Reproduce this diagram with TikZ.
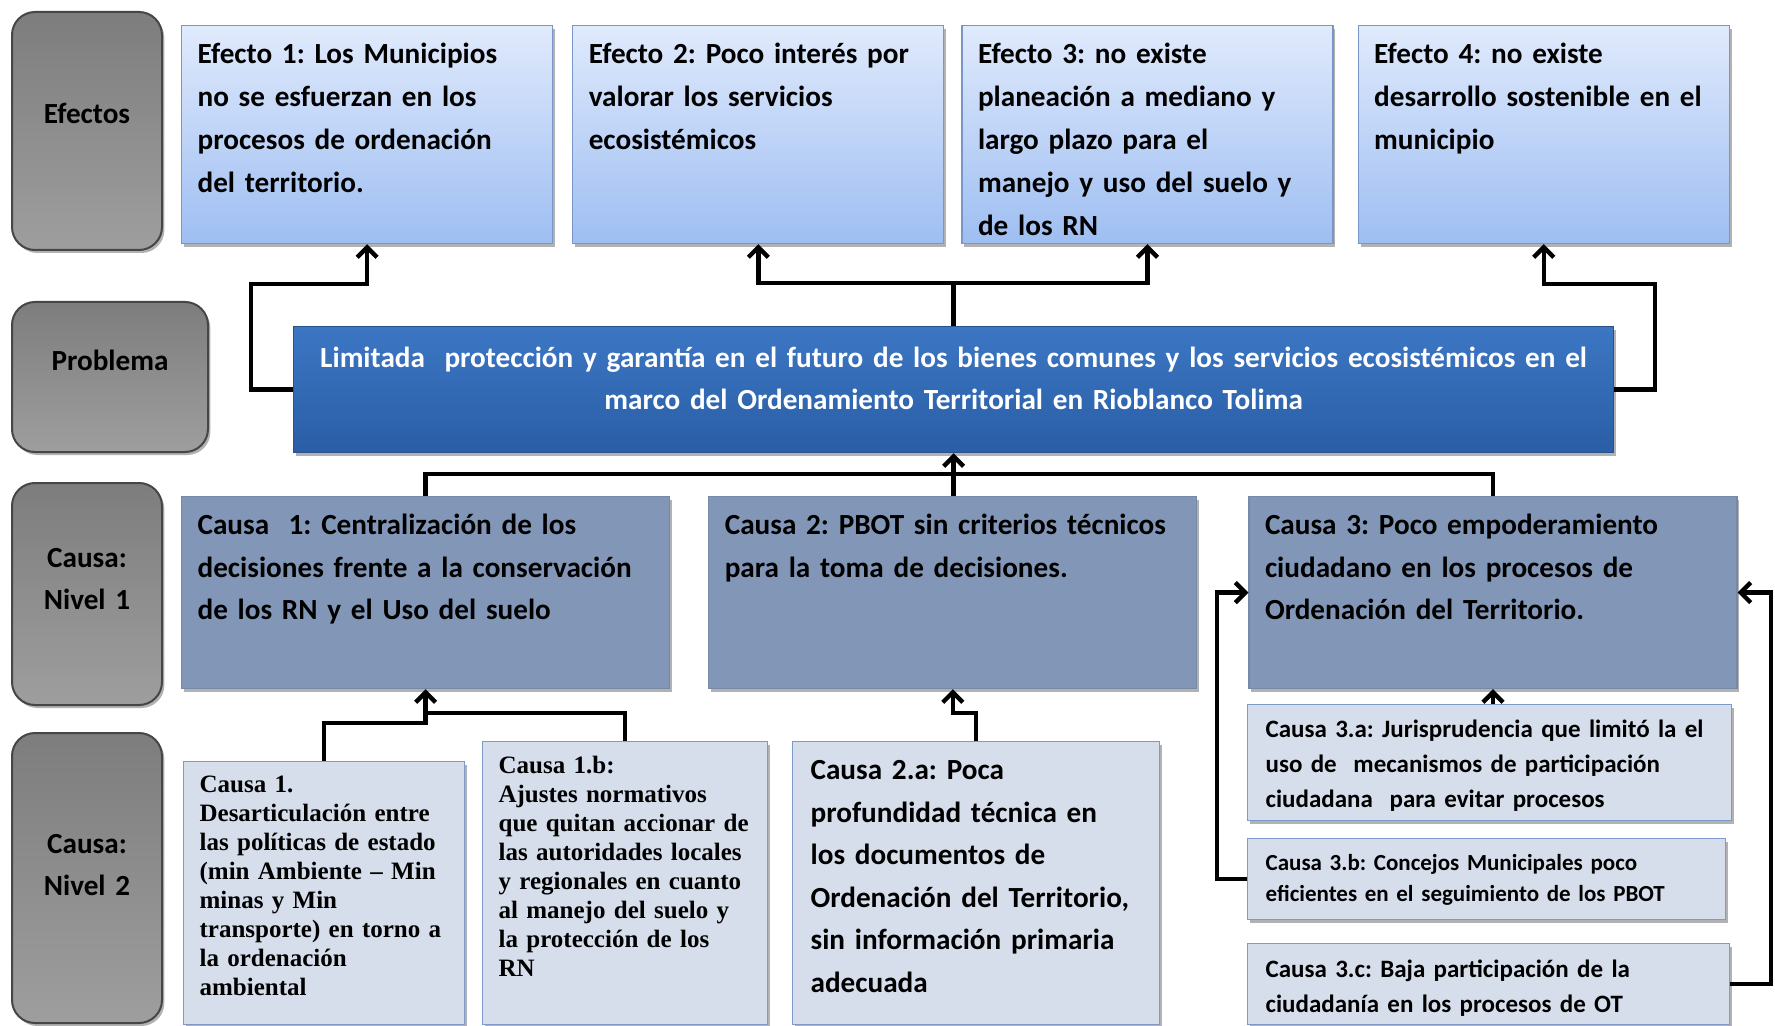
\documentclass[tikz,border=0pt]{standalone}
\usepackage{fontspec}
\setmainfont{Carlito}
\newfontfamily\timesfont{Liberation Serif}
\usepackage{tikz}
\usetikzlibrary{positioning,arrows.meta,calc,shadows}
\frenchspacing

\definecolor{filaborde}{RGB}{70,70,70}
\definecolor{filaarriba}{RGB}{125,125,125}
\definecolor{filaabajo}{RGB}{158,158,158}
\definecolor{efborde}{RGB}{120,150,200}
\definecolor{efarriba}{RGB}{224,234,252}
\definecolor{efabajo}{RGB}{158,190,242}
\definecolor{probborde}{RGB}{40,82,140}
\definecolor{probarriba}{RGB}{60,118,195}
\definecolor{probabajo}{RGB}{42,94,166}
\definecolor{causaborde}{RGB}{118,138,168}
\definecolor{causafondo}{RGB}{130,151,183}
\definecolor{subborde}{RGB}{125,155,200}
\definecolor{subfondo}{RGB}{214,222,235}

\tikzset{
	arbol/.style={x=0.5pt,y=-0.5pt,>={Straight Barb[length=5pt,width=10pt]},
		font=\bfseries\fontsize{14.6}{21}\selectfont},
	sombra/.style={drop shadow={shadow xshift=1.2pt,shadow yshift=-1.5pt,fill=black,opacity=.3}},
	fila/.style={draw=filaborde,line width=1pt,rounded corners=11.5pt,top color=filaarriba,
		bottom color=filaabajo,anchor=north west,inner sep=0pt,align=center,sombra},
	efecto/.style={draw=efborde,line width=.6pt,top color=efarriba,bottom color=efabajo,
		anchor=north west,inner xsep=8pt,inner ysep=0pt,text width=169.5pt,
		text height=19pt,text depth=90pt,align=left,sombra,
		font=\bfseries\fontsize{14.6}{21.5}\selectfont},
	problema/.style={draw=probborde,line width=.6pt,top color=probarriba,bottom color=probabajo,
		anchor=north west,inner xsep=5pt,inner ysep=0pt,text width=650pt,
		text height=20.5pt,text depth=42.5pt,align=center,text=white,sombra},
	causa/.style={draw=causaborde,line width=.6pt,fill=causafondo,anchor=north west,
		inner xsep=8pt,inner ysep=0pt,text width=228pt,text height=19pt,text depth=77pt,
		align=left,sombra,font=\bfseries\fontsize{14.6}{21.25}\selectfont},
	subcausa/.style={draw=subborde,line width=.6pt,fill=subfondo,anchor=north west,
		inner xsep=9pt,inner ysep=0pt,align=left,sombra},
	flecha/.style={line width=2.2pt}
}

\begin{document}
\begin{tikzpicture}[arbol]
	\path[use as bounding box,fill=white] (0,0) rectangle (1775,1026);

	% rotulos
	\node[fila,text width=75pt,text height=56pt,text depth=63pt] (le) at (11,11) {Efectos};
	\node[fila,text width=98pt,text height=34.5pt,text depth=40.5pt] (lp) at (11,301) {Problema};
	\node[fila,text width=75pt,text height=42pt,text depth=69pt] (ln1) at (11,482) {Causa:\\Nivel 1};
	\node[fila,text width=75pt,text height=60pt,text depth=85pt] (ln2) at (11,732) {Causa:\\Nivel 2};

	% efectos
	\node[efecto] (e1) at (181,25) {Efecto 1: Los Municipios\\no se esfuerzan en los\\procesos de ordenación\\del territorio.};
	\node[efecto,right=9.5pt of e1] (e2) {Efecto 2: Poco interés por\\valorar los servicios\\ecosistémicos};
	\node[efecto,right=8.5pt of e2] (e3) {Efecto 3: no existe\\planeación a mediano y\\largo plazo para el\\manejo y uso del suelo y\\de los RN};
	\node[efecto,right=12pt of e3] (e4) {Efecto 4: no existe\\desarrollo sostenible en el\\municipio};

	% problema
	\node[problema] (p) at (293,326) {Limitada~ protección y garantía en el futuro de los bienes comunes y los servicios ecosistémicos en el\\marco del Ordenamiento Territorial en Rioblanco Tolima};

	% causas nivel 1
	\node[causa] (c1) at (181,496) {Causa~ 1: Centralización de los\\decisiones frente a la conservación\\de los RN y el Uso del suelo};
	\node[causa,right=19pt of c1] (c2) {Causa 2: PBOT sin criterios técnicos\\para la toma de decisiones.};
	\node[causa,right=25.5pt of c2] (c3) {Causa 3: Poco empoderamiento\\ciudadano en los procesos de\\Ordenación del Territorio.};

	% causas nivel 2
	\node[subcausa,inner xsep=8pt,text width=124.5pt,text height=15.5pt,text depth=116pt,
		font=\timesfont\bfseries\fontsize{12.5}{14.5}\selectfont] (c1a) at (183,761)
		{Causa 1.\\Desarticulación entre\\las políticas de estado\\(min Ambiente – Min\\minas y Min\\transporte) en torno a\\la ordenación\\ambiental};
	\node[subcausa,inner xsep=8pt,text width=126.5pt,text height=16pt,text depth=125.5pt,
		font=\timesfont\bfseries\fontsize{12.5}{14.5}\selectfont] (c1b) at (482,741)
		{Causa 1.b:\\Ajustes normativos\\que quitan accionar de\\las autoridades locales\\y regionales en cuanto\\al manejo del suelo y\\la protección de los\\RN};
	\node[subcausa,text width=165.5pt,text height=19pt,text depth=122.5pt,
		font=\bfseries\fontsize{14.6}{21.25}\selectfont] (c2a) at (792,741)
		{Causa 2.a: Poca\\profundidad técnica en\\los documentos de\\Ordenación del Territorio,\\sin información primaria\\adecuada};
	\node[subcausa,text width=224pt,text height=16.5pt,text depth=41.5pt,
		font=\bfseries\fontsize{12.5}{17.5}\selectfont] (c3a) at (1247,704)
		{Causa 3.a: Jurisprudencia que limitó la el\\uso de~ mecanismos de participación\\ciudadana~ para evitar procesos};
	\node[subcausa,text width=221pt,text height=16pt,text depth=24.5pt,
		font=\bfseries\fontsize{11.5}{15.3}\selectfont] (c3b) at (1247,838)
		{Causa 3.b: Concejos Municipales poco\\eficientes en el seguimiento de los PBOT};
	\node[subcausa,text width=223pt,text height=17pt,text depth=23.5pt,
		font=\bfseries\fontsize{12.5}{17.5}\selectfont] (c3c) at (1247,943)
		{Causa 3.c: Baja participación de la\\ciudadanía en los procesos de OT};

	% del problema a los efectos
	\draw[flecha,->] (p.west) -- ++(-42,0) |- ($(e1.south)+(0,40)$) -- (e1.south);
	\draw[flecha,->] (p.north) -- ++(0,-43) -| (e2.south);
	\draw[flecha,->] ($(p.north)+(0,-43)$) -| (e3.south);
	\draw[flecha,->] (p.east) -- ++(41,0) |- ($(e4.south)+(0,40)$) -- (e4.south);

	% de las causas al problema
	\draw[flecha] (c1.north) |- ($(p.south)+(0,21)$) -| (c3.north);
	\draw[flecha,->] (c2.north -| p.south) -- (p.south);
	\draw[flecha,->] (c1a.north) |- ($(c1.south)+(0,34)$) -- (c1.south);
	\draw[flecha] (c1b.north) |- ($(c1.south)+(0,24)$);
	\draw[flecha,->] (c2a.north) |- ($(c2.south)+(0,24)$) -- (c2.south);
	\draw[flecha,->] (c3a.north -| c3.south) -- (c3.south);
	\draw[flecha,->] (c3b.west) -- ++(-30,0) |- (c3.west);
	\draw[flecha,->] (c3c.east) -- ++(41,0) |- (c3.east);
\end{tikzpicture}
\end{document}
